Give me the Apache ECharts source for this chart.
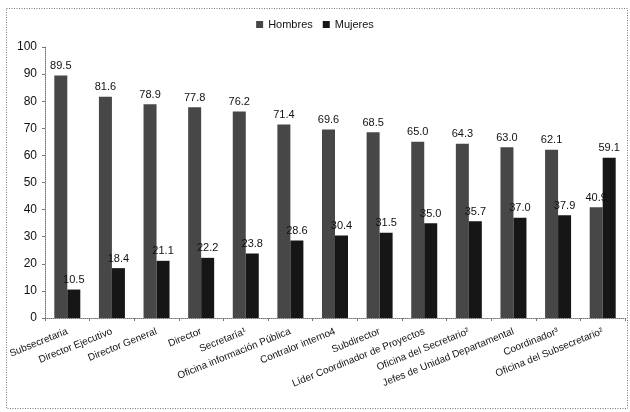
<!DOCTYPE html>
<html><head><meta charset="utf-8">
<script src="https://cdn.jsdelivr.net/npm/echarts@6/dist/echarts.min.js"></script>
<style>html,body{margin:0;padding:0;background:#fff}#c{width:630px;height:412px}</style>
</head><body><div id="c"></div>
<script>
const categories = ["Subsecretaria","Director Ejecutivo","Director General","Director","Secretaría¹","Oficina información Pública","Contralor interno4","Subdirector","Líder Coordinador de Proyectos","Oficina del Secretario²","Jefes de Unidad Departamental","Coordinador³","Oficina del Subsecretario²"];
const hombres = [89.5,81.6,78.9,77.8,76.2,71.4,69.6,68.5,65.0,64.3,63.0,62.1,40.9];
const mujeres = [10.5,18.4,21.1,22.2,23.8,28.6,30.4,31.5,35.0,35.7,37.0,37.9,59.1];
const yTicks = [0,10,20,30,40,50,60,70,80,90,100];

const chart = echarts.init(document.getElementById('c'), null, {renderer:'canvas'});
const lbl = {show:true, position:'top', distance:4, fontFamily:'Liberation Sans, Arial', fontSize:11, color:'#111', formatter:p=>p.value.toFixed(1)};
chart.setOption({
  animation:false,
  textStyle:{fontFamily:'Liberation Sans, Arial'},
  graphic:[{type:'rect', shape:{x:6.5,y:8.5,width:621,height:400}, style:{fill:'none', stroke:'#777', lineWidth:1, lineDash:[1,1.5]}}],
  legend:{top:14, left:'center', itemWidth:7, itemHeight:7, itemGap:10, icon:'rect',
    textStyle:{fontSize:11, color:'#111'}, data:['Hombres','Mujeres']},
  grid:{left:45, right:5, top:47, bottom:94, containLabel:false},
  xAxis:{type:'category', data:categories,
    axisLine:{lineStyle:{color:'#777', type:'dotted'}},
    axisTick:{show:true, alignWithLabel:false, lineStyle:{color:'#777'}, length:3},
    axisLabel:{rotate:22, interval:0, fontSize:10, color:'#111', margin:13}},
  yAxis:{type:'value', min:yTicks[0], max:yTicks[yTicks.length-1], interval:10,
    axisLine:{show:true, lineStyle:{color:'#777', type:'dotted'}},
    axisTick:{show:true, length:3, lineStyle:{color:'#777'}},
    splitLine:{show:false},
    axisLabel:{fontSize:12, color:'#111', margin:8}},
  series:[
    {name:'Hombres', type:'bar', data:hombres, barWidth:13, barGap:'0%', itemStyle:{color:'#474747'}, label:lbl},
    {name:'Mujeres', type:'bar', data:mujeres, barWidth:13, itemStyle:{color:'#161616'}, label:lbl}
  ]
});
</script></body></html>
